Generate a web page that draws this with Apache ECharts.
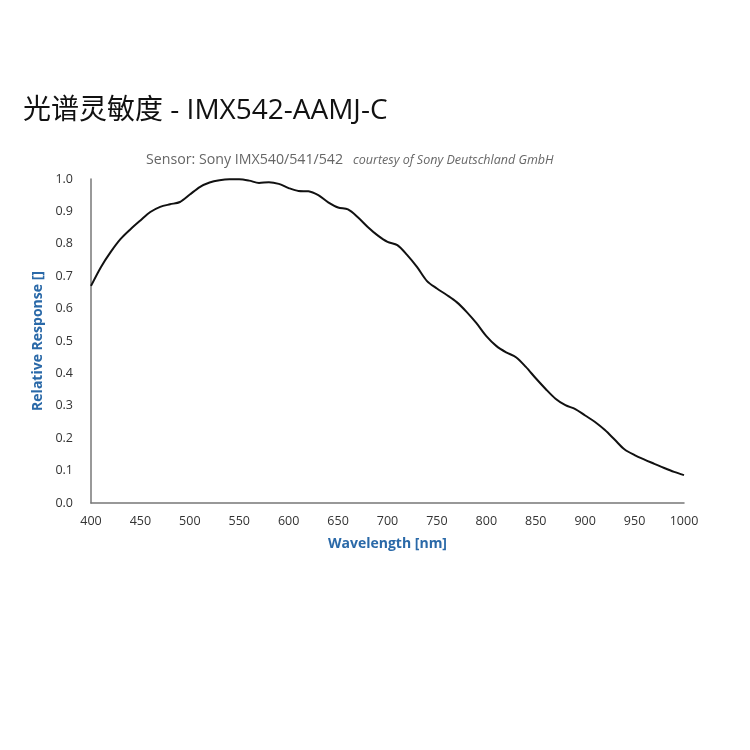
<!DOCTYPE html>
<html>
<head>
<meta charset="utf-8">
<script src="https://cdn.jsdelivr.net/npm/echarts@6/dist/echarts.min.js"></script>
<style>html,body{margin:0;padding:0;background:#fff;}#c{width:750px;height:750px;}</style>
</head>
<body>
<div id="c"></div>
<script>
const wavelengths = [400,410,420,430,440,450,460,470,480,490,500,510,520,530,540,550,560,570,580,590,600,610,620,630,640,650,660,670,680,690,700,710,720,730,740,750,760,770,780,790,800,810,820,830,840,850,860,870,880,890,900,910,920,930,940,950,960,970,980,990,1000];
const response = [0.670,0.728,0.775,0.815,0.845,0.872,0.898,0.914,0.922,0.929,0.952,0.975,0.989,0.996,0.999,0.999,0.995,0.988,0.990,0.985,0.972,0.963,0.962,0.950,0.928,0.912,0.906,0.882,0.852,0.826,0.806,0.796,0.765,0.728,0.685,0.662,0.642,0.620,0.590,0.555,0.515,0.485,0.465,0.450,0.420,0.385,0.352,0.322,0.302,0.290,0.270,0.250,0.225,0.195,0.165,0.148,0.134,0.121,0.108,0.096,0.086];
const titleText = '光谱灵敏度 - IMX542-AAMJ-C';
const sensorText = 'Sensor: Sony IMX540/541/542';
const courtesyText = 'courtesy of Sony Deutschland GmbH';
const xName = 'Wavelength [nm]';
const yName = 'Relative Response []';

const chart = echarts.init(document.getElementById('c'));
chart.setOption({
  animation: false,
  backgroundColor: '#fff',
  title: [
    {
      text: titleText, left: 18, top: 92,
      textStyle: { fontFamily: '"Open Sans","Noto Sans CJK SC",sans-serif', fontSize: 28, fontWeight: 'normal', color: '#111' }
    },
    {
      text: '{a|' + sensorText + '}  {b|' + courtesyText + '}', left: 141, top: 146,
      textStyle: {
        fontWeight: 'normal',
        rich: {
          a: { fontFamily: '"Open Sans",sans-serif', fontSize: 14.2, fontWeight: 'normal', color: '#666' },
          b: { fontFamily: '"Open Sans",sans-serif', fontSize: 12.5, fontStyle: 'italic', fontWeight: 'normal', color: '#666' }
        }
      }
    }
  ],
  grid: { left: 91, right: 66, top: 179, bottom: 247, containLabel: false },
  xAxis: {
    type: 'value', min: 400, max: 1000, interval: 50,
    name: xName, nameLocation: 'middle', nameGap: 34,
    nameTextStyle: { fontFamily: '"Open Sans",sans-serif', fontSize: 14, fontWeight: 'bold', color: '#2a69a8' },
    axisLine: { show: true, lineStyle: { color: '#777', width: 1.5 } },
    axisTick: { show: false },
    splitLine: { show: false },
    axisLabel: { margin: 12, fontFamily: '"Open Sans",sans-serif', fontSize: 12.5, color: '#333', formatter: v => String(v) }
  },
  yAxis: {
    type: 'value', min: 0, max: 1, interval: 0.1,
    name: yName, nameLocation: 'middle', nameGap: 46, nameRotate: 90,
    nameTextStyle: { fontFamily: '"Open Sans",sans-serif', fontSize: 14, fontWeight: 'bold', color: '#2a69a8' },
    axisLine: { show: true, lineStyle: { color: '#777', width: 1.5 } },
    axisTick: { show: false },
    splitLine: { show: false },
    axisLabel: { margin: 18, fontFamily: '"Open Sans",sans-serif', fontSize: 12.5, color: '#333', formatter: v => v.toFixed(1) }
  },
  series: [{
    type: 'line', smooth: 0.3, showSymbol: false,
    data: wavelengths.map((w, i) => [w, response[i]]),
    lineStyle: { color: '#111', width: 2 }
  }]
});
</script>
</body>
</html>
